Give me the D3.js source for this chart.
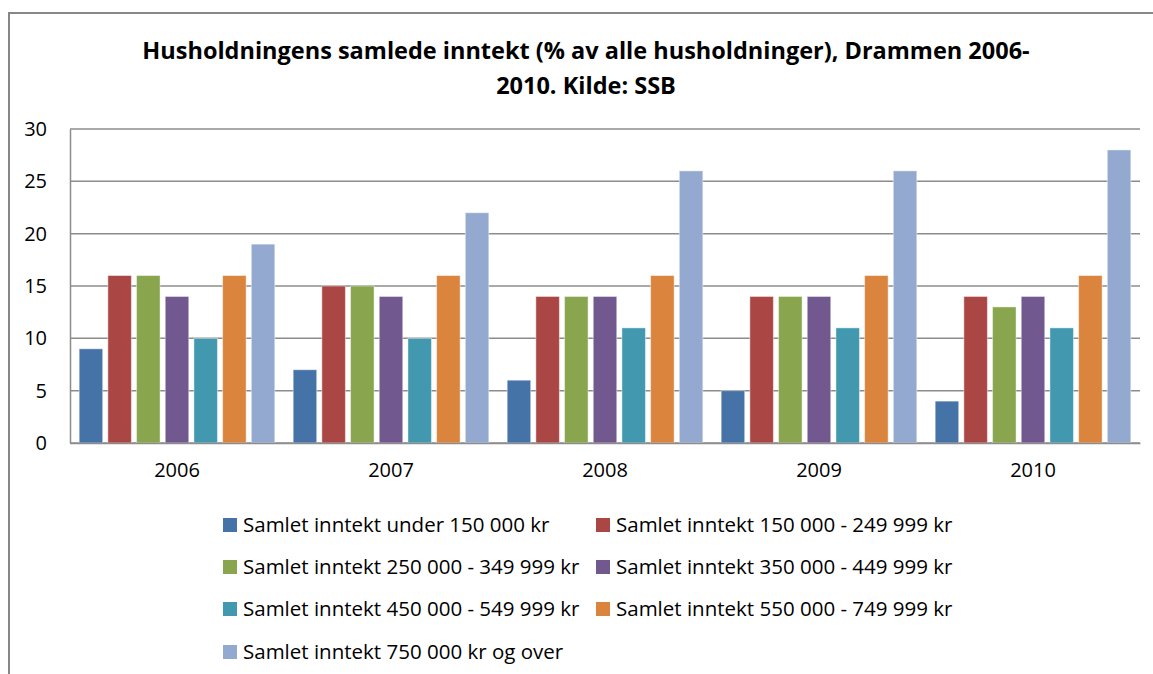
<!DOCTYPE html>
<html>
<head>
<meta charset="utf-8">
<script src="https://cdn.jsdelivr.net/npm/d3@7"></script>
<style>
  body { margin: 0; background: #fff; }
  text { font-family: "Open Sans", sans-serif; fill: #000; }
</style>
</head>
<body>
<div id="chart"></div>
<script>
var years = ['2006', '2007', '2008', '2009', '2010'];
var series = [
    'Samlet inntekt under 150 000 kr',
    'Samlet inntekt 150 000 - 249 999 kr',
    'Samlet inntekt 250 000 - 349 999 kr',
    'Samlet inntekt 350 000 - 449 999 kr',
    'Samlet inntekt 450 000 - 549 999 kr',
    'Samlet inntekt 550 000 - 749 999 kr',
    'Samlet inntekt 750 000 kr og over'
];
var under150 = [9, 7, 6, 5, 4];
var from150 = [16, 15, 14, 14, 14];
var from250 = [16, 15, 14, 14, 13];
var from350 = [14, 14, 14, 14, 14];
var from450 = [10, 10, 11, 11, 11];
var from550 = [16, 16, 16, 16, 16];
var over750 = [19, 22, 26, 26, 28];
var yTicks = [0, 5, 10, 15, 20, 25, 30];
var colors = ['#4572A7', '#AA4643', '#89A54E', '#71588F', '#4198AF', '#DB843D', '#93A9CF'];

var values = [under150, from150, from250, from350, from450, from550, over750];

var width = 1153, height = 674;
var margin = {left: 70, right: 13, top: 129, bottom: 231};

var svg = d3.select('#chart')
    .append('svg')
    .attr('width', width)
    .attr('height', height);

// chart frame
svg.append('rect')
    .attr('x', 9)
    .attr('y', 13)
    .attr('width', 1170)
    .attr('height', 700)
    .attr('fill', '#fff')
    .attr('stroke', '#878787')
    .attr('stroke-width', 2);

var title = svg.append('text')
    .attr('text-anchor', 'middle')
    .style('font-weight', 'bold')
    .style('font-size', '23.5px');
title.append('tspan').attr('x', 586).attr('y', 59)
    .text('Husholdningens samlede inntekt (% av alle husholdninger), Drammen 2006-');
title.append('tspan').attr('x', 586).attr('y', 94)
    .text('2010. Kilde: SSB');

var x0 = d3.scaleBand()
    .domain(years)
    .range([margin.left, width - margin.right])
    .padding(0);

var x1 = d3.scaleBand()
    .domain(series)
    .range([0, x0.bandwidth()])
    .paddingInner(0.18)
    .paddingOuter(0.32);

var y = d3.scaleLinear()
    .domain([0, 30])
    .range([height - margin.bottom, margin.top]);

// gridlines
svg.append('g')
    .selectAll('line')
    .data(yTicks)
    .enter()
    .append('line')
    .attr('x1', margin.left)
    .attr('x2', width - margin.right)
    .attr('y1', function(d) { return y(d); })
    .attr('y2', function(d) { return y(d); })
    .attr('stroke', '#8c8c8c')
    .attr('stroke-width', 1.5);

// y axis
var yAxis = svg.append('g')
    .attr('transform', 'translate(' + margin.left + ',0)')
    .call(d3.axisLeft(y).tickValues(yTicks).tickSize(0).tickPadding(23));
yAxis.select('.domain').attr('stroke', '#8c8c8c').attr('stroke-width', 1.5);
yAxis.selectAll('text').style('font-size', '20px').attr('fill', '#000');

// bars
var groups = svg.append('g')
    .selectAll('g')
    .data(years)
    .enter()
    .append('g')
    .attr('transform', function(d) { return 'translate(' + x0(d) + ',0)'; });

groups.selectAll('rect')
    .data(function(d, i) {
        return series.map(function(s, j) {
            return {key: s, value: values[j][i], color: colors[j]};
        });
    })
    .enter()
    .append('rect')
    .attr('x', function(d) { return x1(d.key); })
    .attr('y', function(d) { return y(d.value); })
    .attr('width', x1.bandwidth())
    .attr('height', function(d) { return y(0) - y(d.value); })
    .attr('fill', function(d) { return d.color; })
    .attr('stroke', 'rgba(255,255,255,0.45)')
    .attr('stroke-width', 1);

// x axis
var xAxis = svg.append('g')
    .attr('transform', 'translate(0,' + y(0) + ')')
    .call(d3.axisBottom(x0).tickSize(0).tickPadding(20));
xAxis.select('.domain').attr('stroke', '#8c8c8c').attr('stroke-width', 1.5);
xAxis.selectAll('text').style('font-size', '20px').attr('fill', '#000');

// legend
var legendX = [223, 596];
var legendY = [525, 567, 609, 652];
var legend = svg.append('g')
    .selectAll('.legend')
    .data(series)
    .enter()
    .append('g')
    .attr('class', 'legend')
    .attr('transform', function(d, i) {
        return 'translate(' + legendX[i % 2] + ',' + legendY[Math.floor(i / 2)] + ')';
    });

legend.append('rect')
    .attr('x', 0)
    .attr('y', -7)
    .attr('width', 14)
    .attr('height', 14)
    .attr('fill', function(d, i) { return colors[i]; });

legend.append('text')
    .attr('x', 20)
    .attr('dy', '0.35em')
    .style('font-size', '20.5px')
    .text(function(d) { return d; });
</script>
</body>
</html>
